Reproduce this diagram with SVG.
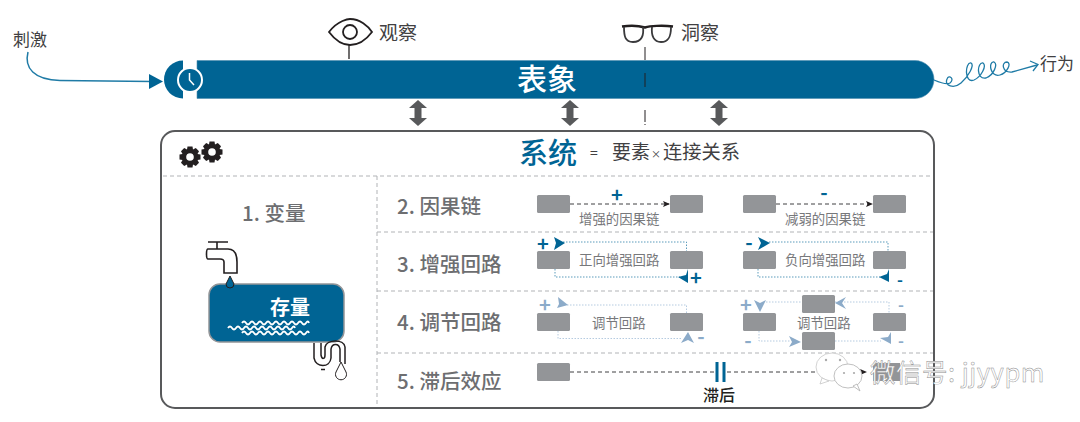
<svg xmlns="http://www.w3.org/2000/svg" width="1080" height="422" viewBox="0 0 1080 422">
<style>
text{font-family:"Noto Sans CJK SC","Liberation Sans",sans-serif}
.lab{font-size:19px;fill:#414042}
.lab2{font-size:17px;fill:#414042}
.head{font-size:20.500px;font-weight:500;fill:#6d6e71}
.cap{font-size:13.400px;fill:#77787b}
.box{fill:#939598}
.dash{fill:none;stroke:#b1b3b6;stroke-width:1;stroke-dasharray:4 3}
.chain{fill:none;stroke:#414042;stroke-width:1;stroke-dasharray:4 3}
.dot{fill:none;stroke:#5b9bbb;stroke-width:1;stroke-dasharray:1.500 1.500}
.dotl{fill:none;stroke:#b5cbe0;stroke-width:1;stroke-dasharray:1.500 1.500}
.sg{font-weight:700;font-size:20px;fill:#006494;text-anchor:middle}
.sgl{font-weight:700;font-size:20px;fill:#8cabc9;text-anchor:middle}
.sm{font-size:16px}
.ah{fill:#006494}
.ahl{fill:#8cabc9}
.ink{fill:none;stroke:#231f20;stroke-width:1.600}
.blue{fill:none;stroke:#1f7ba6;stroke-width:1.300}
.dbl{fill:#58595b}
.wm{font-size:25.500px;fill:#fff;stroke:#8a8a8a;stroke-width:.45;letter-spacing:.5px}
</style>
<defs>
<marker id="tip" markerWidth="8" markerHeight="8" refX="6" refY="3" orient="auto" markerUnits="userSpaceOnUse"><path d="M0 0L7 3L0 6L1.500 3Z" fill="#231f20"/></marker>
<path id="dbla" d="M0-13L9-5H3.500V5H9L0 13L-9 5H-3.500V-5H-9Z"/>
<path id="gear" d="M-2.500-10.500H2.500L3-7.500L5.800-9L9-5.800L7.500-3L10.500-2.500V2.500L7.500 3L9 5.800L5.800 9L3 7.500L2.500 10.500H-2.500L-3 7.500L-5.800 9L-9 5.800L-7.500 3L-10.500 2.500V-2.500L-7.500-3L-9-5.800L-5.800-9L-3-7.500ZM0-3.800A3.800 3.800 0 1 0 0 3.800A3.800 3.800 0 1 0 0-3.800Z" fill="#231f20" fill-rule="evenodd"/>
<path id="wave" d="M0 0q2-3 4 0t4 0t4 0t4 0t4 0t4 0t4 0t4 0t4 0t4 0t4 0t4 0t4 0t4 0t4 0t4 0t3 0" fill="none" stroke="#fff" stroke-width="1.800"/>
</defs>

<g id="phenomenon">
<path d="M197 60.500H915A19 19 0 0 1 915 98.500H197Z" fill="#006494" stroke="#4f8fb0" stroke-width=".6"/>
<path d="M183 60.500A19 19 0 0 0 183 98.500Z" fill="#006494"/>
<circle cx="190" cy="80" r="12" fill="#006494" stroke="#fff" stroke-width="2"/>
<path d="M189.500 73V80L194 85" fill="none" stroke="#fff" stroke-width="1.500"/>
<text x="547" y="90" font-size="30" font-weight="500" fill="#fff" text-anchor="middle">表象</text>
</g>

<g id="connectors">
<path class="blue" d="M28 52C24 68 34 80 60 80.500L152 81.500" style="stroke-width:1.500"/>
<path d="M149 74L163 81.500L149 89Z" fill="#006494"/>
<path class="blue" d="M934 80C941 83 947 85 950 83C955 79 949 74 947 79C944 86 954 89 961 83C968 77 975 65 971 63C965 62 964 84 974 80C981 77 987 66 983 63C977 62 976 80 986 78C994 75 998 64 994 62C988 61 990 78 1000 75C1007 73 1012 63 1007 62C1001 62 1002 73 1012 72L1037 65"/>
<path class="blue" d="M1030 61L1038 64.500L1033 71"/>
<path d="M349 45V59" stroke="#231f20" stroke-width="1.300"/>
<path d="M645 47V60M645 73V87M645 110V122M645 124V125" stroke="#231f20" stroke-width="1"/>
<use href="#dbla" x="418" y="113" class="dbl"/>
<use href="#dbla" x="570" y="113" class="dbl"/>
<use href="#dbla" x="719" y="113" class="dbl"/>
<path class="dash" d="M163 176H934M377 176V408M377 232H934M377 291H934M377 353H934"/>
<path class="chain" d="M570 204H669" marker-end="url(#tip)"/>
<path class="chain" d="M776 204H872" marker-end="url(#tip)"/>
<path class="chain" d="M570 372H715M727 372H866" marker-end="url(#tip)"/>
<path class="dot" d="M563 242H686.500V251M555 269V277H680"/>
<path class="dot" d="M769 242H888V251M758 269V277H880"/>
<path class="ah" d="M554 237L565 243L554 250L556 243ZM688 269V283L678 277L686 275Z"/>
<path class="ah" d="M758 237L770 243L758 250L761 243ZM889 269V282L879 277L887 274Z"/>
<path class="dotl" d="M567 305H686.500V313M558 331V338.500H681"/>
<path class="dotl" d="M766 302H802M835 302H889V313M759 331V341H790M835 341H881"/>
<path class="ahl" d="M558 297L568 305L557 308L559 304ZM688 332L694 343L688 340L681 343Z"/>
<path class="ahl" d="M754 300L760 303L766 300L760 312ZM835 303L846 297L842 303L846 309ZM789 336L801 342L789 347L792 342ZM891 332V344L880 338L888 337Z"/>
</g>

<g id="stimulus"><text class="lab2" x="13" y="46">刺激</text></g>
<g id="observe">
<path class="ink" d="M329 32C338 20 349 19 350 19C360 19 368 26 372 32C366 40 358 45 350 45C342 45 335 40 329 32Z" style="stroke-width:1.800"/>
<circle class="ink" cx="350" cy="32" r="7" style="stroke-width:1.800"/>
<text class="lab" x="379" y="40">观察</text>
</g>
<g id="insight">
<path d="M622 26.500C632 25 640 26 645 27.500C650 26 662 25 673 26.500" fill="none" stroke="#231f20" stroke-width="2.400"/>
<path d="M624 27C624 36 625 42 633 42C642 42 644 35 643 27M652 27C651 36 654 42 661 42C669 42 671 36 671 27" fill="none" stroke="#3a3a3c" stroke-width="1.800"/>
<text class="lab" x="681" y="40">洞察</text>
</g>
<g id="action"><text class="lab2" x="1040" y="70">行为</text></g>

<g id="system">
<rect x="161" y="131" width="773" height="277" rx="14" fill="none" stroke="#58595b" stroke-width="2"/>
<use href="#gear" transform="translate(190 157)"/>
<use href="#gear" transform="translate(212 152)"/>
<text x="519" y="164" font-size="29" font-weight="500" fill="#006494">系统</text>
<text x="590" y="158" font-size="14" fill="#414042">=</text>
<text x="612" y="159" font-size="19" fill="#414042">要素</text>
<text x="651" y="158" font-size="10" fill="#414042">×</text>
<text x="663" y="159" font-size="19.250" fill="#414042">连接关系</text>
</g>

<g id="variable">
<text class="head" x="242" y="221">1. 变量</text>
<path class="ink" d="M208 242H228M217 242V249M208 249H228C235 249 237 255 237 262V273H224V262C224 260 222 259 220 259H208C206 259 206 249 208 249Z"/>
<rect x="209" y="284" width="135" height="58" rx="11" fill="#006494" stroke="#939598" stroke-width="1.500"/>
<path d="M230 276L234 284A4 4 0 1 1 226 284Z" fill="#006494" stroke="#231f20" stroke-width="1"/>
<text x="270" y="315" font-size="20" font-weight="700" fill="#fff">存量</text>
<use href="#wave" x="242" y="323"/>
<use href="#wave" x="228" y="328"/>
<use href="#wave" x="242" y="333"/>
<path class="ink" d="M314 343V358C316 368 330 368 331 358V349C332 343 339 343 340 349V362M321 343V355C322 360 325 359 325 355V347C327 339 344 339 345 347V364" style="stroke-width:1.500"/>
<path d="M321 369.500H325" stroke="#231f20" stroke-width="1.500"/>
<path d="M341 362L346 372A5.500 5.500 0 1 1 336 372Z" fill="#fff" stroke="#231f20" stroke-width="1"/>
</g>

<g id="causal">
<text class="head" x="397" y="214">2. 因果链</text>
<rect class="box" x="537" y="195" width="33" height="18" rx="1.500"/><rect class="box" x="670" y="195" width="33" height="18" rx="1.500"/>
<rect class="box" x="743" y="195" width="33" height="18" rx="1.500"/><rect class="box" x="873" y="195" width="33" height="18" rx="1.500"/>
<text class="sg" x="617" y="202">+</text>
<text class="sg" x="824" y="200">-</text>
<text class="cap" x="579" y="224">增强的因果链</text>
<text class="cap" x="785" y="224">减弱的因果链</text>
</g>

<g id="reinforcing">
<text class="head" x="397" y="272">3. 增强回路</text>
<rect class="box" x="537" y="251" width="33" height="18" rx="1.500"/><rect class="box" x="670" y="251" width="33" height="18" rx="1.500"/>
<rect class="box" x="743" y="251" width="33" height="18" rx="1.500"/><rect class="box" x="873" y="251" width="33" height="18" rx="1.500"/>
<text class="sg" x="543" y="251">+</text>
<text class="sg" x="696" y="285">+</text>
<text class="sg" x="749" y="250">-</text>
<text class="sg sm" x="900" y="286">-</text>
<text class="cap" x="579" y="265">正向增强回路</text>
<text class="cap" x="785" y="265">负向增强回路</text>
</g>

<g id="balancing">
<text class="head" x="397" y="330">4. 调节回路</text>
<rect class="box" x="537" y="313" width="33" height="18" rx="1.500"/><rect class="box" x="670" y="313" width="33" height="18" rx="1.500"/>
<rect class="box" x="743" y="313" width="33" height="18" rx="1.500"/><rect class="box" x="873" y="313" width="33" height="18" rx="1.500"/>
<rect class="box" x="802" y="295" width="33" height="18" rx="1.500"/><rect class="box" x="802" y="332" width="33" height="18" rx="1.500"/>
<text class="sgl" x="545" y="312">+</text>
<text class="sgl" x="701" y="344">-</text>
<text class="sgl" x="746" y="312">+</text>
<text class="sgl" x="748" y="348">-</text>
<text class="sgl sm" x="901" y="311">-</text>
<text class="sgl sm" x="901" y="347">-</text>
<text class="cap" x="592" y="328">调节回路</text>
<text class="cap" x="797" y="328">调节回路</text>
</g>

<g id="delay">
<text class="head" x="397" y="389">5. 滞后效应</text>
<rect class="box" x="537" y="363" width="33" height="18" rx="1.500"/><rect class="box" x="873" y="363" width="27" height="18"/>
<path d="M717 362V382M724 362V382" stroke="#006494" stroke-width="3"/>
<text x="703" y="401" font-size="16" font-weight="500" fill="#231f20">滞后</text>
</g>

<g id="watermark">
<ellipse cx="832" cy="367" rx="16" ry="14" fill="#fff" stroke="#c8c8c8" stroke-width=".8"/>
<path d="M822 378L820 384L829 381Z" fill="#fff" stroke="#c8c8c8" stroke-width=".8"/>
<ellipse cx="848" cy="376" rx="14" ry="12" fill="#fff" stroke="#b0b0b0" stroke-width=".8"/>
<path d="M853 386L860 391L857 384Z" fill="#fff" stroke="#b0b0b0" stroke-width=".8"/>
<circle cx="826" cy="360" r="1.200" fill="#aaa"/><circle cx="840" cy="360" r="1.200" fill="#aaa"/>
<circle cx="844" cy="373" r="1.100" fill="#aaa"/><circle cx="854" cy="373" r="1.100" fill="#aaa"/>
<text class="wm" x="870" y="382">微信号: jjyypm</text>
</g>
</svg>
